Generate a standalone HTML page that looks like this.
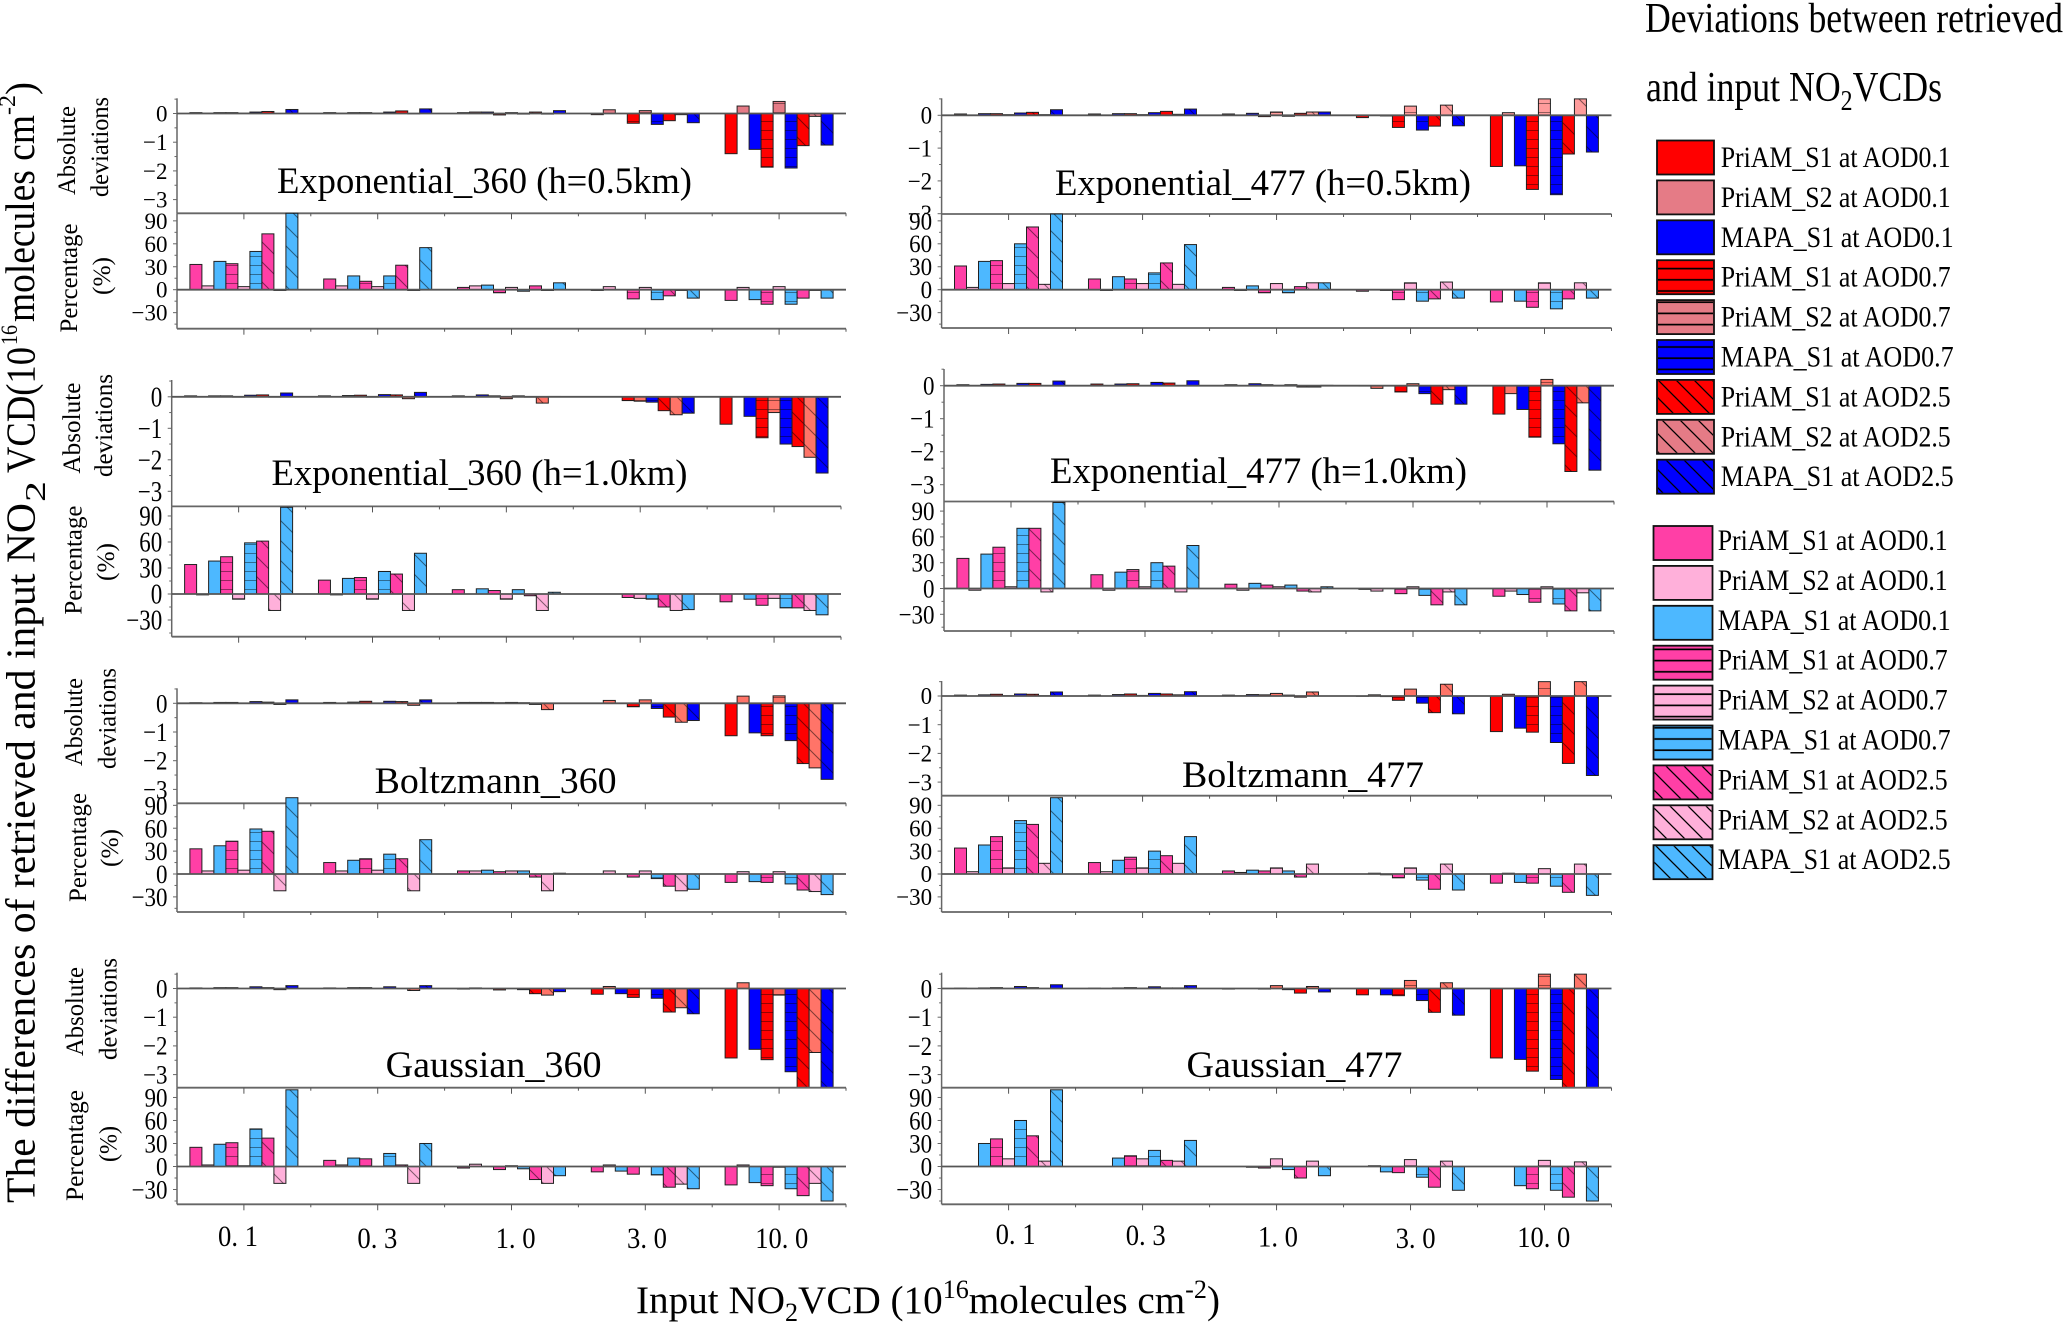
<!DOCTYPE html>
<html lang="en">
<head>
<meta charset="utf-8">
<title>Deviations between retrieved and input NO2 VCDs</title>
<style>
html,body{margin:0;padding:0;background:#fff;}
svg{display:block;}
text{font-family:"Liberation Serif","DejaVu Serif",serif;fill:#000;}
</style>
</head>
<body>
<svg id="figure" xmlns="http://www.w3.org/2000/svg" width="2067" height="1323" viewBox="0 0 2067 1323">
<defs>
<pattern id="barH" patternUnits="userSpaceOnUse" width="10" height="9"><path d="M0 4.5H10" stroke="#000" stroke-opacity=".42" stroke-width="1"/></pattern>
<pattern id="barD" patternUnits="userSpaceOnUse" width="20" height="20"><path d="M-2 -2L22 22M-2 18L2 22M18 -2L22 2" stroke="#000" stroke-opacity=".5" stroke-width="1"/></pattern>
<pattern id="legH" patternUnits="userSpaceOnUse" width="10" height="11.2" y="3"><path d="M0 8H10" stroke="#000" stroke-width="1.7"/></pattern>
<pattern id="legD" patternUnits="userSpaceOnUse" width="18" height="18"><path d="M-2 -2L20 20M-2 16L2 20M16 -2L20 2" stroke="#000" stroke-width="1.3"/></pattern>
</defs>
<rect width="2067" height="1323" fill="#fff"/>
<g id="panels"></g>

<g font-size="37">
<text x="277" y="193" textLength="415" lengthAdjust="spacingAndGlyphs">Exponential_360 (h=0.5km)</text>
<text x="1055" y="195" textLength="416" lengthAdjust="spacingAndGlyphs">Exponential_477 (h=0.5km)</text>
<text x="271.5" y="485" textLength="416" lengthAdjust="spacingAndGlyphs">Exponential_360 (h=1.0km)</text>
<text x="1050" y="483" textLength="417" lengthAdjust="spacingAndGlyphs">Exponential_477 (h=1.0km)</text>
<text x="374.6" y="793" textLength="242" lengthAdjust="spacingAndGlyphs">Boltzmann_360</text>
<text x="1182" y="787" textLength="242" lengthAdjust="spacingAndGlyphs">Boltzmann_477</text>
<text x="385.6" y="1077" textLength="216" lengthAdjust="spacingAndGlyphs">Gaussian_360</text>
<text x="1186.5" y="1077" textLength="216" lengthAdjust="spacingAndGlyphs">Gaussian_477</text>
</g>

<g font-size="25">
<text transform="translate(75,195) rotate(-90)" textLength="89" lengthAdjust="spacingAndGlyphs">Absolute</text>
<text transform="translate(108,197) rotate(-90)" textLength="100" lengthAdjust="spacingAndGlyphs">deviations</text>
<text transform="translate(77,332.5) rotate(-90)" textLength="109" lengthAdjust="spacingAndGlyphs">Percentage</text>
<text transform="translate(110,295) rotate(-90)" textLength="38" lengthAdjust="spacingAndGlyphs">(%)</text>
<text transform="translate(80,473.6) rotate(-90)" textLength="91" lengthAdjust="spacingAndGlyphs">Absolute</text>
<text transform="translate(112,477) rotate(-90)" textLength="103" lengthAdjust="spacingAndGlyphs">deviations</text>
<text transform="translate(81.7,614.6) rotate(-90)" textLength="109" lengthAdjust="spacingAndGlyphs">Percentage</text>
<text transform="translate(114,581) rotate(-90)" textLength="38" lengthAdjust="spacingAndGlyphs">(%)</text>
<text transform="translate(82,766) rotate(-90)" textLength="88" lengthAdjust="spacingAndGlyphs">Absolute</text>
<text transform="translate(115.7,769) rotate(-90)" textLength="101" lengthAdjust="spacingAndGlyphs">deviations</text>
<text transform="translate(86,902) rotate(-90)" textLength="109" lengthAdjust="spacingAndGlyphs">Percentage</text>
<text transform="translate(118,867) rotate(-90)" textLength="38" lengthAdjust="spacingAndGlyphs">(%)</text>
<text transform="translate(83,1056) rotate(-90)" textLength="89" lengthAdjust="spacingAndGlyphs">Absolute</text>
<text transform="translate(116.7,1060) rotate(-90)" textLength="102" lengthAdjust="spacingAndGlyphs">deviations</text>
<text transform="translate(83,1201) rotate(-90)" textLength="111" lengthAdjust="spacingAndGlyphs">Percentage</text>
<text transform="translate(116.7,1162) rotate(-90)" textLength="36" lengthAdjust="spacingAndGlyphs">(%)</text>
</g>

<g font-size="41">
<text transform="translate(34.5,1203) rotate(-90)" textLength="700" lengthAdjust="spacingAndGlyphs">The differences of retrieved and input NO</text>
<text transform="translate(45,502) rotate(-90)" font-size="29" textLength="21" lengthAdjust="spacingAndGlyphs">2</text>
<text transform="translate(34.5,473) rotate(-90)" textLength="126" lengthAdjust="spacingAndGlyphs">VCD(10</text>
<text transform="translate(17,345) rotate(-90)" font-size="23" textLength="20" lengthAdjust="spacingAndGlyphs">16</text>
<text transform="translate(34,322) rotate(-90)" textLength="207" lengthAdjust="spacingAndGlyphs">molecules cm</text>
<text transform="translate(15,115) rotate(-90)" font-size="23" textLength="20" lengthAdjust="spacingAndGlyphs">-2</text>
<text transform="translate(34,95) rotate(-90)" textLength="13" lengthAdjust="spacingAndGlyphs">)</text>
</g>

<text x="636" y="1313" font-size="39" textLength="584" lengthAdjust="spacingAndGlyphs">Input NO<tspan font-size="26" dy="8">2</tspan><tspan dy="-8">VCD (10</tspan><tspan font-size="26" dy="-15">16</tspan><tspan dy="15">molecules cm</tspan><tspan font-size="26" dy="-15">-2</tspan><tspan dy="15">)</tspan></text>

<g>
<text x="1645" y="32" font-size="42" textLength="418" lengthAdjust="spacingAndGlyphs">Deviations between retrieved</text>
<text x="1646" y="101" font-size="42" textLength="296" lengthAdjust="spacingAndGlyphs">and input NO<tspan font-size="28" dy="9">2</tspan><tspan dy="-9">VCDs</tspan></text>
<g id="legend-absolute"></g>
<g id="legend-percentage"></g>
</g>
</svg>

<script>
// ---- shared chart data ----
const categories = [0.1, 0.3, 1.0, 3.0, 10.0];
const categoryLabels = ["0. 1", "0. 3", "1. 0", "3. 0", "10. 0"];
const seriesNames = ["PriAM_S1 at AOD0.1", "PriAM_S2 at AOD0.1", "MAPA_S1 at AOD0.1", "PriAM_S1 at AOD0.7", "PriAM_S2 at AOD0.7", "MAPA_S1 at AOD0.7", "PriAM_S1 at AOD2.5", "PriAM_S2 at AOD2.5", "MAPA_S1 at AOD2.5"];
const absTickValues = [0, -1, -2, -3];
const absTickLabels = ["0", "\u22121", "\u22122", "\u22123"];
const pctTickValues = [90, 60, 30, 0, -30];
const pctTickLabels = ["90", "60", "30", "0", "\u221230"];

// ---- series values: one row per input VCD, one column per series ----
const exp360h05Abs = [
  [.03,.01,.03,.03,.01,.05,.07,0,.14],
  [.03,.01,.03,.03,.01,.05,.09,-.01,.16],
  [.03,.05,.05,-.05,.03,-.02,.05,-.02,.1],
  [-.04,.13,0,-.34,.1,-.38,-.25,-.04,-.32],
  [-1.4,.26,-1.25,-1.87,.42,-1.9,-1.12,-.1,-1.1]];
const exp360h05Pct = [
  [33,5,37,34,4,50,73,-1,100],
  [14,5,18,11,4,18,32,-1,55],
  [3,5,6,-4,3,-2,5,-1,9],
  [-1,4,0,-12,3,-13,-8,-1,-11],
  [-14,3,-13,-19,4,-19,-11,-1,-11]];
const exp477h05Abs = [
  [.04,.01,.05,.05,.02,.07,.09,.02,.17],
  [.04,.01,.05,.05,.02,.08,.12,.03,.19],
  [.04,.01,.06,-.04,.1,-.03,.06,.1,.1],
  [-.07,0,-.02,-.37,.28,-.45,-.33,.31,-.32],
  [-1.56,.08,-1.54,-2.26,.5,-2.42,-1.18,.5,-1.12]];
const exp477h05Pct = [
  [31,3,37,38,8,60,82,7,100],
  [14,-1,17,14,8,22,35,7,59],
  [3,-1,5,-4,8,-4,4,9,9],
  [-2,0,-1,-13,9,-15,-12,10,-11],
  [-16,0,-15,-23,9,-25,-12,9,-11]];
const exp360h10Abs = [
  [.03,0,.03,.03,-.01,.05,.06,-.01,.12],
  [.03,0,.04,.05,-.01,.07,.06,-.06,.14],
  [.03,0,.06,.03,-.06,.03,-.01,-.2,.01],
  [0,0,0,-.12,-.14,-.17,-.44,-.57,-.52],
  [-.87,0,-.62,-1.3,-.5,-1.5,-1.58,-1.92,-2.42]];
const exp360h10Pct = [
  [34,-1,38,43,-6,59,61,-19,100],
  [16,-1,18,19,-6,26,23,-19,47],
  [5,0,6,4,-6,5,-2,-19,2],
  [0,0,0,-4,-5,-6,-15,-19,-18],
  [-9,0,-6,-13,-5,-16,-16,-19,-24]];
const exp477h10Abs = [
  [.03,0,.04,.05,0,.07,.07,0,.14],
  [.05,0,.05,.06,0,.1,.08,0,.15],
  [.03,0,.06,.03,.01,.03,-.04,-.04,.01],
  [-.01,-.08,0,-.19,.06,-.24,-.56,-.12,-.56],
  [-.86,-.24,-.72,-1.56,.19,-1.76,-2.6,-.52,-2.56]];
const exp477h10Pct = [
  [35,-2,40,48,2,70,70,-4,100],
  [16,-2,19,22,2,30,26,-4,50],
  [5,-2,6,4,2,4,-3,-4,2],
  [-1,-3,0,-6,2,-8,-19,-4,-19],
  [-9,-3,-7,-16,2,-18,-26,-5,-26]];
const boltz360Abs = [
  [.02,0,.03,.03,0,.06,.04,-.04,.12],
  [.03,0,.04,.07,0,.07,.06,-.07,.12],
  [.03,.03,.03,.02,.03,.02,-.04,-.22,0],
  [0,.1,0,-.12,.12,-.18,-.48,-.66,-.6],
  [-1.13,.25,-1.03,-1.13,.26,-1.3,-2.1,-2.25,-2.65]];
const boltz360Pct = [
  [33,4,37,43,5,59,56,-22,100],
  [15,4,18,20,5,26,20,-22,45],
  [4,4,5,3,4,4,-4,-22,1],
  [0,4,0,-4,4,-6,-16,-22,-20],
  [-11,3,-10,-11,3,-13,-21,-23,-27]];
const boltz477Abs = [
  [.03,0,.04,.06,.01,.07,.06,.01,.14],
  [.03,0,.05,.07,.02,.09,.07,.04,.15],
  [.03,.01,.05,.04,.09,.03,-.04,.14,0],
  [-.01,.04,-.02,-.15,.24,-.25,-.58,.41,-.62],
  [-1.24,.06,-1.12,-1.26,.5,-1.62,-2.35,.5,-2.77]];
const boltz477Pct = [
  [34,3,38,49,8,70,65,14,100],
  [15,3,18,22,8,30,24,14,49],
  [4,2,5,4,8,4,-4,13,0],
  [0,1,-1,-5,8,-8,-20,13,-21],
  [-12,1,-11,-12,7,-16,-24,13,-28]];
const gauss360Abs = [
  [.02,0,.03,.03,0,.06,.03,-.04,.1],
  [.02,0,.03,.03,0,.06,0,-.07,.1],
  [-.02,.02,0,-.05,0,-.04,-.18,-.23,-.11],
  [-.2,.07,-.18,-.31,0,-.34,-.82,-.67,-.88],
  [-2.42,.2,-2.12,-2.48,-.23,-2.9,-3.5,-2.23,-3.5]];
const gauss360Pct = [
  [25,2,29,31,1,49,37,-22,100],
  [8,2,11,10,0,17,2,-22,30],
  [-2,3,0,-4,1,-3,-17,-22,-12],
  [-7,2,-6,-10,0,-11,-27,-23,-29],
  [-24,2,-21,-25,-1,-29,-38,-22,-45]];
const gauss477Abs = [
  [.01,0,.02,.03,0,.07,.03,0,.13],
  [.01,0,.02,.03,.01,.06,.02,.02,.1],
  [-.02,0,0,-.02,.1,-.04,-.16,.07,-.12],
  [-.22,0,-.22,-.25,.28,-.42,-.83,.2,-.93],
  [-2.42,0,-2.47,-2.88,.5,-3.17,-3.5,.5,-3.5]];
const gauss477Pct = [
  [0,0,30,36,10,60,40,7,100],
  [0,0,11,14,10,21,8,7,34],
  [0,0,-1,-2,10,-4,-15,7,-12],
  [0,1,-7,-8,9,-14,-27,7,-31],
  [0,0,-25,-29,8,-31,-40,6,-45]];

// ---- layout and styling (separate from the data above) ----
const SVGNS = "http://www.w3.org/2000/svg";
const panels = [
  {id:"exponential-360-h05", abs:exp360h05Abs, pct:exp360h05Pct, left:177, right:846, absTop:98.3, abs0:113.5, absUnit:28.7, divider:213.3, pct0:289.7, pctUnit:.765, pctTop:213.3, pctBottom:328.7, s2:"#e57b86", sy:1.03},
  {id:"exponential-477-h05", abs:exp477h05Abs, pct:exp477h05Pct, left:941.6, right:1611.5, absTop:98.3, abs0:115.3, absUnit:32.8, divider:214, pct0:289.7, pctUnit:.765, pctTop:214, pctBottom:328, s2:"#ff9c9c", sy:1.08},
  {id:"exponential-360-h10", abs:exp360h10Abs, pct:exp360h10Pct, left:171.7, right:841, absTop:380, abs0:396.8, absUnit:31.5, divider:506.4, pct0:594, pctUnit:.867, pctTop:506.4, pctBottom:636.7, s2:"#ff7468", sy:1.22},
  {id:"exponential-477-h10", abs:exp477h10Abs, pct:exp477h10Pct, left:944, right:1614, absTop:369, abs0:385.7, absUnit:33, divider:501.5, pct0:588.5, pctUnit:.86, pctTop:501.5, pctBottom:631, s2:"#ff7468", sy:1.16},
  {id:"boltzmann-360", abs:boltz360Abs, pct:boltz360Pct, left:177, right:846, absTop:688.3, abs0:703.3, absUnit:28.7, divider:803.3, pct0:874, pctUnit:.763, pctTop:797, pctBottom:912, s2:"#ff7468", sy:1.16},
  {id:"boltzmann-477", abs:boltz477Abs, pct:boltz477Pct, left:941.6, right:1611.5, absTop:681, abs0:696, absUnit:28.7, divider:795.7, pct0:874, pctUnit:.763, pctTop:797, pctBottom:912, s2:"#ff7468", sy:1.05},
  {id:"gaussian-360", abs:gauss360Abs, pct:gauss360Pct, left:177, right:846, absTop:972.7, abs0:988.5, absUnit:28.7, divider:1087.7, pct0:1166.5, pctUnit:.767, pctTop:1089, pctBottom:1204.3, s2:"#ff7468", sy:1.13},
  {id:"gaussian-477", abs:gauss477Abs, pct:gauss477Pct, left:941.6, right:1611.5, absTop:972.7, abs0:988.5, absUnit:28.7, divider:1087.7, pct0:1166.5, pctUnit:.767, pctTop:1089, pctBottom:1204.3, s2:"#ff7468", sy:1.16}
];
const hatchKinds = [null, null, null, "H", "H", "H", "D", "D", "D"];
const absFills = ["#ff0000", "S2", "#0000ff", "#ff0000", "S2", "#0000ff", "#ff0000", "S2", "#0000ff"];
const pctFills = ["#ff3fa6", "#ffb0da", "#4db8ff", "#ff3fa6", "#ffb0da", "#4db8ff", "#ff3fa6", "#ffb0da", "#4db8ff"];

function svgEl(tag, attrs, parent) {
  const el = document.createElementNS(SVGNS, tag);
  for (const key in attrs) el.setAttribute(key, attrs[key]);
  parent.appendChild(el);
  return el;
}
function clamp(v, a, b) { return Math.max(a, Math.min(b, v)); }
function xOfGroup(p, g) { return p.left + (p.right - p.left) / categories.length * g; }
function xOfBar(p, g, s) { return xOfGroup(p, g) + 12.9 + 12 * s; }
function yAbs(p, v) { return clamp(p.abs0 - v * p.absUnit, p.absTop, p.divider); }
function yPct(p, v) { return clamp(p.pct0 - v * p.pctUnit, p.pctTop, p.pctBottom); }

function drawBars(parent, p, rows, yFn, fills, kind) {
  rows.forEach(function (row, g) {
    row.forEach(function (v, s) {
      if (v === 0) return;
      const x = xOfBar(p, g, s);
      const y1 = yFn(p, v), y0 = yFn(p, 0);
      const top = Math.min(y0, y1), h = Math.abs(y1 - y0);
      const fill = fills[s] === "S2" ? p.s2 : fills[s];
      const bar = svgEl("rect", {x: x, y: top, width: 12, height: h, fill: fill, stroke: "#222", "stroke-width": 1}, parent);
      
      
      if (hatchKinds[s]) {
        const hatch = svgEl("rect", {x: x, y: top, width: 12, height: h, fill: "url(#bar" + hatchKinds[s] + ")"}, parent);
        
        
      }
    });
  });
}
function drawLine(parent, x1, y1, x2, y2, color, width, name) {
  const line = svgEl("line", {x1: x1, y1: y1, x2: x2, y2: y2, stroke: color, "stroke-width": width}, parent);
  
  
  return line;
}
function drawTickLabel(parent, p, y, label, name) {
  const t = svgEl("text", {"font-size": 23, "text-anchor": "end", transform: "translate(" + (p.left - 9.5) + "," + (y + 7.8 * p.sy) + ") scale(1," + p.sy + ")"}, parent);
  t.textContent = label;
  
  
}
function drawXTicks(parent, p, y) {
  for (let g = 0; g <= categories.length; g++) {
    const xb = xOfGroup(p, g);
    if (g > 0) drawLine(parent, xb, y, xb, y + 3, "#555", 1, 'x-minor-tick');
    if (g < categories.length) {
      const xc = xOfGroup(p, g + 0.5);
      drawLine(parent, xc, y, xc, y + 6, "#555", 1, 'x-major-tick');
    }
  }
}
function drawPanel(p) {
  const g = svgEl("g", {}, document.getElementById("panels"));
  
  

  // absolute deviation sub-panel
  drawLine(g, p.left, p.absTop, p.left, p.divider, "#666", 1.5, 'abs-y-axis');
  for (let v = -3; v <= 0.5; v += 0.5) {
    const y = p.abs0 - v * p.absUnit;
    if (y <= p.divider) drawLine(g, p.left - (Number.isInteger(v) ? 4 : 2.5), y, p.left, y, "#666", 1, 'abs-y-tick');
  }
  absTickValues.forEach(function (v, i) {
    drawTickLabel(g, p, p.abs0 - v * p.absUnit, absTickLabels[i], 'abs-tick-label');
  });
  drawBars(g, p, p.abs, yAbs, absFills, 'abs');
  drawLine(g, p.left, p.abs0, p.right, p.abs0, "#555", 1.8, 'abs-zero-line');

  // percentage sub-panel
  const cover = svgEl("rect", {x: p.left - 45, y: p.divider + 1, width: 45, height: p.pctBottom - p.divider, fill: "#fff"}, g);
  
  
  drawLine(g, p.left, p.divider, p.left, p.pctBottom, "#666", 1.5, 'pct-y-axis');
  for (let v = -45; v <= 90; v += 15) {
    drawLine(g, p.left - (v % 30 === 0 ? 4 : 2.5), p.pct0 - v * p.pctUnit, p.left, p.pct0 - v * p.pctUnit, "#666", 1, 'pct-y-tick');
  }
  pctTickValues.forEach(function (v, i) {
    drawTickLabel(g, p, p.pct0 - v * p.pctUnit, pctTickLabels[i], 'pct-tick-label');
  });
  drawLine(g, p.left, p.divider, p.right, p.divider, "#666", 1.8, 'panel-divider');
  drawXTicks(g, p, p.divider);
  drawBars(g, p, p.pct, yPct, pctFills, 'pct');
  drawLine(g, p.left, p.pct0, p.right, p.pct0, "#555", 1.8, 'pct-zero-line');
  drawLine(g, p.left, p.pctBottom, p.right, p.pctBottom, "#666", 1.8, 'x-axis-line');
  drawXTicks(g, p, p.pctBottom);
}
panels.forEach(drawPanel);

// x category labels under both columns
const xLabelCols = [
  {name: "left", centers: [238, 377.4, 515.6, 647, 781.7], base: [1246, 1248, 1248, 1248, 1248]},
  {name: "right", centers: [1015.6, 1145.7, 1278, 1415.6, 1543.7], base: [1244, 1245, 1246.7, 1248, 1247]}
];
xLabelCols.forEach(function (col) {
  categoryLabels.forEach(function (label, i) {
    const width = label.length > 4 ? 53 : 40;
    const t = svgEl("text", {x: col.centers[i] - width / 2, y: col.base[i], "font-size": 30, textLength: width, lengthAdjust: "spacingAndGlyphs"}, document.getElementById("panels"));
    t.textContent = label;
    
    
  });
});

// legends
function drawLegend(parentId, fills, swatchX, swatchW, firstY, textX, textOffset, groupName) {
  const parent = document.getElementById(parentId);
  seriesNames.forEach(function (name, i) {
    const y = firstY + 39.9 * i;
    const g = svgEl("g", {}, parent);
    
    
    const fill = fills[i] === "S2" ? "#e57b86" : fills[i];
    const sw = svgEl("rect", {x: swatchX, y: y, width: swatchW, height: 34, fill: fill, stroke: "#111", "stroke-width": 1.8}, g);
    
    
    if (hatchKinds[i]) {
      const h = svgEl("rect", {x: swatchX + 1, y: y + 1, width: swatchW - 2, height: 32, fill: "url(#leg" + hatchKinds[i] + ")"}, g);
      
      
    }
    const w = name.indexOf("MAPA") === 0 ? 233 : 230;
    const t = svgEl("text", {x: textX, y: y + textOffset, "font-size": 30, textLength: w, lengthAdjust: "spacingAndGlyphs"}, g);
    t.textContent = name;
    
    
  });
}
drawLegend("legend-absolute", absFills, 1657, 57, 140.5, 1720.7, 26.5, "absolute");
drawLegend("legend-percentage", pctFills, 1653.5, 59, 526, 1717.7, 24, "percentage");
</script>
</body>
</html>
